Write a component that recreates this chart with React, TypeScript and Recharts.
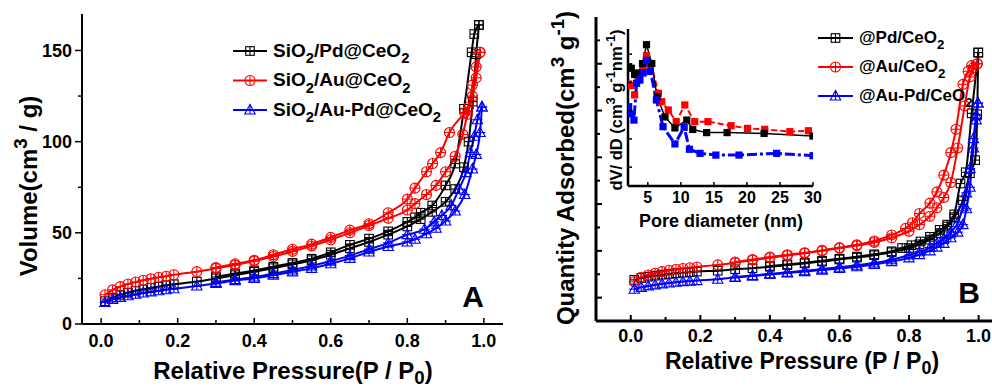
import React from 'react';
import { LineChart, Line, XAxis, YAxis, Label, Legend } from 'recharts';

type Pt = [number, number];

const FONT = "'Liberation Sans', Arial, Helvetica, sans-serif";

// ---- panel A: isotherms (P/P0, volume cm3/g) ----
const A_PD_ADS: Pt[] = [[0.01,12.5],[0.03,14.5],[0.05,16],[0.07,17.2],[0.09,18.2],[0.11,19],[0.13,19.8],[0.15,20.5],[0.17,21.2],[0.19,21.8],[0.25,23.3],[0.3,25],[0.35,26.8],[0.4,28.6],[0.45,30.6],[0.5,32.7],[0.55,35],[0.6,38],[0.65,41.5],[0.7,45],[0.75,49],[0.8,53.5],[0.835,57.5],[0.865,61.5],[0.9,67],[0.925,74],[0.948,86],[0.96,100],[0.971,122],[0.98,148],[0.987,164]];
const A_PD_DES: Pt[] = [[0.3,25.8],[0.35,27.7],[0.4,29.3],[0.45,31.4],[0.5,33.5],[0.55,35.8],[0.6,39.3],[0.65,43.4],[0.7,46.8],[0.75,50.8],[0.8,56],[0.82,58.5],[0.835,61],[0.865,65],[0.9,76],[0.925,88],[0.948,118],[0.968,149],[0.975,159],[0.987,164]];
const A_AU_ADS: Pt[] = [[0.01,16],[0.03,18.7],[0.05,20.5],[0.07,21.9],[0.09,23],[0.11,24],[0.13,24.8],[0.15,25.6],[0.17,26.2],[0.19,27],[0.25,28.7],[0.3,30.5],[0.35,32.3],[0.4,34.5],[0.45,37],[0.5,39.8],[0.55,42.8],[0.6,46.2],[0.65,50],[0.7,54],[0.75,58],[0.8,62.5],[0.82,66],[0.85,71],[0.875,76],[0.9,83.5],[0.925,92],[0.945,104],[0.957,115],[0.97,125],[0.98,135],[0.99,149]];
const A_AU_DES: Pt[] = [[0.3,31],[0.35,33],[0.4,35],[0.45,38],[0.5,41],[0.55,43.8],[0.6,47.5],[0.65,51.5],[0.7,55],[0.75,61],[0.8,68.5],[0.82,74.5],[0.85,83.5],[0.866,88],[0.887,94],[0.91,105],[0.95,116],[0.96,119],[0.97,131],[0.98,141],[0.99,149]];
const A_AUPD_ADS: Pt[] = [[0.01,11.8],[0.03,13.5],[0.05,14.6],[0.07,15.5],[0.09,16.3],[0.11,17],[0.13,17.6],[0.15,18.2],[0.17,18.8],[0.19,19.3],[0.25,20.8],[0.3,22.2],[0.35,23.8],[0.4,25],[0.45,26.8],[0.5,28.6],[0.55,30.5],[0.6,33],[0.65,36],[0.7,39.5],[0.75,42.5],[0.8,45],[0.82,46.5],[0.85,49.5],[0.875,52.5],[0.9,56.5],[0.925,62],[0.95,71],[0.97,85],[0.98,93],[0.99,105],[0.995,119]];
const A_AUPD_DES: Pt[] = [[0.3,22.8],[0.35,24.4],[0.4,25.8],[0.45,27.6],[0.5,29.6],[0.55,31.8],[0.6,34.5],[0.65,37.5],[0.7,41],[0.75,44.5],[0.8,49],[0.845,52],[0.87,56],[0.89,59.5],[0.915,65],[0.935,74],[0.953,83],[0.965,94],[0.975,103],[0.983,112],[0.995,119]];

// ---- panel B: isotherms (no y labels in the figure) ----
const B_PD_ADS: Pt[] = [[0.01,19],[0.03,21],[0.05,22.4],[0.07,23.5],[0.09,24.5],[0.11,25.3],[0.13,26],[0.15,26.7],[0.17,27.2],[0.19,27.8],[0.25,28.8],[0.3,30.3],[0.35,31.4],[0.4,33],[0.45,34.8],[0.5,36.6],[0.55,38.5],[0.6,40.8],[0.65,42.8],[0.7,45.3],[0.75,48.5],[0.8,53],[0.83,57],[0.86,62],[0.89,69],[0.91,76],[0.93,86],[0.955,104],[0.975,133],[0.99,147],[0.996,196],[0.999,262]];
const B_PD_DES: Pt[] = [[0.4,33.8],[0.45,35.5],[0.5,37.3],[0.55,39.3],[0.6,41.6],[0.65,43.8],[0.7,46.3],[0.75,49.5],[0.78,53],[0.807,56],[0.833,60],[0.86,65],[0.888,72.4],[0.91,78],[0.93,89],[0.948,122],[0.963,134],[0.98,197],[0.999,262]];
const B_AU_ADS: Pt[] = [[0.01,17],[0.03,21.8],[0.05,24.2],[0.07,26],[0.09,27.8],[0.11,29.2],[0.13,30.3],[0.15,31.2],[0.17,32],[0.19,32.8],[0.25,35],[0.3,37.4],[0.35,40],[0.4,42.6],[0.45,45],[0.5,47.4],[0.55,50],[0.6,52.8],[0.65,55.6],[0.7,59],[0.75,64],[0.8,71],[0.83,78],[0.86,87],[0.88,96],[0.9,107],[0.92,123],[0.94,160],[0.96,205],[0.975,236],[0.985,246],[0.996,250]];
const B_AU_DES: Pt[] = [[0.3,38],[0.35,40.8],[0.4,43.3],[0.45,45.8],[0.5,48],[0.55,50.5],[0.6,53.5],[0.65,56.5],[0.7,60.5],[0.75,67],[0.79,74],[0.81,80],[0.83,90],[0.86,101],[0.88,113],[0.9,131],[0.92,155],[0.935,180],[0.955,228],[0.97,242],[0.98,248],[0.996,250]];
const B_AUPD_ADS: Pt[] = [[0.01,9],[0.03,11],[0.05,12.5],[0.07,13.6],[0.09,14.7],[0.11,15.6],[0.13,16.4],[0.15,17.1],[0.17,17.6],[0.19,18.2],[0.25,19.6],[0.3,21.5],[0.35,23],[0.4,24.8],[0.45,26.3],[0.5,27.8],[0.55,29.4],[0.6,31.2],[0.65,33],[0.7,35.5],[0.75,38.5],[0.8,42.5],[0.83,46],[0.86,50],[0.88,54],[0.9,58],[0.92,64],[0.94,70],[0.955,78],[0.965,95],[0.975,118],[0.985,160],[0.993,190],[0.998,208]];
const B_AUPD_DES: Pt[] = [[0.3,22],[0.35,23.6],[0.4,25.5],[0.45,27],[0.5,28.6],[0.55,30.5],[0.6,32.5],[0.65,34.6],[0.7,37],[0.75,40.5],[0.8,45.5],[0.83,49],[0.86,53.5],[0.88,58],[0.9,63],[0.92,70],[0.94,80],[0.955,97],[0.965,112],[0.975,138],[0.985,170],[0.993,195],[0.998,208]];

// ---- inset: pore size distribution (nm, dV/dD arbitrary) ----
const IN_PD: Pt[] = [[2.1,0.76],[2.5,0.75],[3.0,0.71],[3.5,0.72],[4.2,0.78],[4.8,0.9],[5.6,0.78],[6.4,0.57],[7.6,0.44],[9.1,0.37],[10.9,0.42],[11.8,0.36],[13.9,0.34],[17.0,0.34],[22.6,0.335],[30,0.318]];
const IN_AU: Pt[] = [[2.1,0.65],[2.5,0.64],[3.0,0.58],[3.5,0.675],[4.3,0.74],[4.8,0.83],[5.5,0.78],[6.6,0.59],[7.1,0.537],[8.1,0.484],[9.3,0.41],[10.6,0.516],[12.1,0.41],[14.1,0.41],[17.6,0.384],[20.1,0.367],[22.7,0.361],[26.5,0.346],[29.3,0.352]];
const IN_AUPD: Pt[] = [[2.1,0.505],[2.5,0.46],[2.9,0.42],[3.3,0.654],[3.8,0.675],[4.3,0.72],[4.8,0.8],[5.4,0.73],[6.3,0.548],[7.3,0.378],[9.1,0.268],[10.5,0.374],[11.3,0.234],[12.9,0.208],[15.3,0.197],[18.8,0.197],[24.5,0.208],[30,0.193]];

const A_NAMES = ['SiO_{2}/Pd@CeO_{2}', 'SiO_{2}/Au@CeO_{2}', 'SiO_{2}/Au-Pd@CeO_{2}'];
const B_NAMES = ['@Pd/CeO_{2}', '@Au/CeO_{2}', '@Au-Pd/CeO_{2}'];
const COLORS = ['#000000', '#ff0000', '#0000ff'];
const KINDS = ['square', 'circle', 'triangle'];

const P_TICKS = [0, 0.1, 0.2, 0.3, 0.4, 0.5, 0.6, 0.7, 0.8, 0.9, 1.0];
const A_Y_TICKS = [0, 25, 50, 75, 100, 125, 150];
const B_Y_TICKS = [0, 25, 50, 75, 100, 125, 150, 175, 200, 225, 250, 275];
const IN_X_TICKS = [5, 10, 15, 20, 25, 30];
const IN_Y_TICKS = [0.12, 0.3, 0.48, 0.66, 0.84];

const rows = (pts: Pt[]) => pts.map(([p, v]) => ({ p, v }));

// text with _{sub} and ^{sup}
function rich(s: string, fs: number, subDrop = 0.3) {
  const parts = s.split(/([_^]\{[^}]*\})/).filter(Boolean);
  let shift = 0;
  return parts.map((t, i) => {
    if (t[0] === '_' || t[0] === '^') {
      const d = t[0] === '_' ? fs * subDrop : -fs * 0.4;
      const el = (
        <tspan key={i} dy={d - shift} fontSize={fs * 0.78}>
          {t.slice(2, -1)}
        </tspan>
      );
      shift = d;
      return el;
    }
    const el = (
      <tspan key={i} dy={-shift}>
        {t}
      </tspan>
    );
    shift = 0;
    return el;
  });
}

function Marker({ kind, cx, cy, color }: { kind: string; cx: number; cy: number; color: string }) {
  if (cx == null || cy == null) return null;
  const sw = 1.1;
  if (kind === 'square') {
    const h = 4.3;
    return (
      <g stroke={color} strokeWidth={sw} fill="none">
        <rect x={cx - h} y={cy - h} width={h * 2} height={h * 2} />
        <line x1={cx - h} x2={cx + h} y1={cy} y2={cy} />
        <line x1={cx} x2={cx} y1={cy - h} y2={cy + h} />
      </g>
    );
  }
  if (kind === 'circle') {
    const r = 5;
    return (
      <g stroke={color} strokeWidth={sw} fill="none">
        <circle cx={cx} cy={cy} r={r} />
        <line x1={cx - r} x2={cx + r} y1={cy} y2={cy} />
        <line x1={cx} x2={cx} y1={cy - r} y2={cy + r} />
      </g>
    );
  }
  const w = 5.2;
  return (
    <g stroke={color} strokeWidth={sw} fill="none">
      <polygon points={`${cx},${cy - 5.5} ${cx - w},${cy + 4} ${cx + w},${cy + 4}`} />
      <line x1={cx - w} x2={cx + w} y1={cy} y2={cy} />
      <line x1={cx} x2={cx} y1={cy - 5.5} y2={cy + 4} />
    </g>
  );
}

const dotOf = (kind: string, color: string) => (props: any) => (
  <Marker key={`${kind}-${props.index}`} kind={kind} cx={props.cx} cy={props.cy} color={color} />
);

const squareDot = (color: string) => (props: any) =>
  props.cx == null ? null : (
    <rect key={props.index} x={props.cx - 3.6} y={props.cy - 3.6} width={7.2} height={7.2} fill={color} />
  );

type Side = 'bottom' | 'left' | 'top' | 'right';
function tickOf(opt: {
  side: Side;
  margin: number;
  major: (v: number) => boolean;
  label?: (v: number) => string;
  fs?: number;
  inward: boolean;
  majorLen: number;
  minorLen: number;
  sw?: number;
}) {
  return (props: any) => {
    const { x, y, payload, index } = props;
    const v = payload.value;
    const maj = opt.major(v);
    const len = maj ? opt.majorLen : opt.minorLen;
    const lab = maj && opt.label ? opt.label(v) : null;
    const fs = opt.fs || 16;
    let ln: React.ReactNode = null;
    let tx: React.ReactNode = null;
    if (opt.side === 'bottom') {
      const ay = y - opt.margin;
      ln = <line x1={x} x2={x} y1={ay} y2={opt.inward ? ay - len : ay + len} />;
      if (lab) tx = <text x={x} y={y} dy="0.71em" textAnchor="middle">{lab}</text>;
    } else if (opt.side === 'top') {
      const ay = y + opt.margin;
      ln = <line x1={x} x2={x} y1={ay} y2={opt.inward ? ay + len : ay - len} />;
    } else if (opt.side === 'left') {
      const ax = x + opt.margin;
      ln = <line x1={ax} x2={opt.inward ? ax + len : ax - len} y1={y} y2={y} />;
      if (lab) tx = <text x={x} y={y} dy="0.35em" textAnchor="end">{lab}</text>;
    } else {
      const ax = x - opt.margin;
      ln = <line x1={ax} x2={opt.inward ? ax - len : ax + len} y1={y} y2={y} />;
    }
    return (
      <g key={index}>
        <g stroke="#000" strokeWidth={opt.sw || 1.5}>{ln}</g>
        {tx && (
          <g fill="#000" fontSize={fs} fontWeight={700} fontFamily={FONT}>
            {tx}
          </g>
        )}
      </g>
    );
  };
}

const isEvenTenth = (v: number) => Math.round(v * 10) % 2 === 0;
const isFifty = (v: number) => Math.round(v) % 50 === 0;

function LegendBox({ names, fs, gap, lineLen }: { names: string[]; fs: number; gap: number; lineLen: number }) {
  return (
    <svg width={250} height={gap * 3 + 12} style={{ overflow: 'visible', display: 'block' }}>
      {names.map((n, i) => {
        const cy = 12 + i * gap;
        return (
          <g key={n}>
            <line x1={0} x2={lineLen} y1={cy} y2={cy} stroke={COLORS[i]} strokeWidth={2} />
            <Marker kind={KINDS[i]} cx={lineLen / 2} cy={cy} color={COLORS[i]} />
            <text x={lineLen + 6} y={cy + fs * 0.3} fontSize={fs} fontWeight={700} fontFamily={FONT} fill="#000">
              {rich(n, fs, 0.34)}
            </text>
          </g>
        );
      })}
    </svg>
  );
}

const titleText = (s: string, x: number, y: number, fs: number, rotate = false) => () => (
  <text
    x={x}
    y={y}
    textAnchor="middle"
    fontSize={fs}
    fontWeight={700}
    fontFamily={FONT}
    fill="#000"
    transform={rotate ? `rotate(-90, ${x}, ${y})` : undefined}
  >
    {rich(s, fs, 0.2)}
  </text>
);

function isoLines(sets: Pt[][]) {
  // sets: [pdAds, pdDes, auAds, auDes, aupdAds, aupdDes]
  return sets.map((pts, i) => {
    const s = Math.floor(i / 2);
    return (
      <Line
        key={i}
        data={rows(pts)}
        dataKey="v"
        type="monotone"
        stroke={COLORS[s]}
        strokeWidth={2}
        dot={dotOf(KINDS[s], COLORS[s])}
        activeDot={false}
        isAnimationActive={false}
      />
    );
  });
}

function PanelA() {
  const dom: [number, number] = [-0.05, 1.05];
  return (
    <LineChart width={520} height={387} margin={{ top: 14, right: 17, left: 0, bottom: 0 }}>
      <XAxis
        dataKey="p"
        type="number"
        domain={dom}
        allowDataOverflow
        ticks={P_TICKS}
        interval={0}
        height={63}
        tickSize={0}
        tickMargin={10}
        axisLine={{ stroke: '#000', strokeWidth: 2 }}
        tick={tickOf({ side: 'bottom', margin: 10, major: isEvenTenth, label: (v) => v.toFixed(1), fs: 18, inward: true, majorLen: 6, minorLen: 4 })}
      >
        <Label content={titleText('Relative Pressure(P / P_{0})', 293, 379, 24)} />
        <Label content={titleText('A', 473, 307, 30)} />
      </XAxis>
      <XAxis
        xAxisId="top"
        orientation="top"
        dataKey="p"
        type="number"
        domain={dom}
        allowDataOverflow
        ticks={P_TICKS}
        interval={0}
        height={0}
        tickSize={0}
        tickMargin={0}
        axisLine={{ stroke: '#000', strokeWidth: 2 }}
        tick={tickOf({ side: 'top', margin: 0, major: isEvenTenth, inward: true, majorLen: 5, minorLen: 3 })}
      />
      <YAxis
        type="number"
        domain={[0, 170]}
        allowDataOverflow
        ticks={A_Y_TICKS}
        interval={0}
        width={82}
        tickSize={0}
        tickMargin={10}
        axisLine={{ stroke: '#000', strokeWidth: 2 }}
        tick={tickOf({ side: 'left', margin: 10, major: isFifty, label: (v) => String(v), fs: 18, inward: false, majorLen: 7, minorLen: 4 })}
      >
        <Label content={titleText('Volume(cm^{3} / g)', 37, 186, 24, true)} />
      </YAxis>
      <YAxis
        yAxisId="right"
        orientation="right"
        type="number"
        domain={[0, 170]}
        allowDataOverflow
        ticks={A_Y_TICKS}
        interval={0}
        width={0}
        tickSize={0}
        tickMargin={0}
        axisLine={{ stroke: '#000', strokeWidth: 2 }}
        tick={tickOf({ side: 'right', margin: 0, major: isFifty, inward: true, majorLen: 5, minorLen: 3 })}
      />
      <Legend
        layout="vertical"
        align="center"
        verticalAlign="middle"
        wrapperStyle={{ position: 'absolute', left: 233, top: 39, width: 250 }}
        content={() => <LegendBox names={A_NAMES} fs={19} gap={29.5} lineLen={34} />}
      />
      {isoLines([A_PD_ADS, A_PD_DES, A_AU_ADS, A_AU_DES, A_AUPD_ADS, A_AUPD_DES])}
    </LineChart>
  );
}

function PanelB() {
  const dom: [number, number] = [-0.1, 1.05];
  return (
    <LineChart width={480} height={387} margin={{ top: 17, right: 4, left: 0, bottom: 0 }}>
      <XAxis
        dataKey="p"
        type="number"
        domain={dom}
        allowDataOverflow
        ticks={P_TICKS}
        interval={0}
        height={66}
        tickSize={0}
        tickMargin={8}
        axisLine={{ stroke: '#000', strokeWidth: 3 }}
        tick={tickOf({ side: 'bottom', margin: 8, major: isEvenTenth, label: (v) => v.toFixed(1), fs: 18, inward: true, majorLen: 6, minorLen: 4, sw: 2 })}
      >
        <Label content={titleText('Relative Pressure (P / P_{0})', 282, 369, 23)} />
        <Label content={titleText('B', 449, 303, 30)} />
      </XAxis>
      <XAxis
        xAxisId="top"
        orientation="top"
        dataKey="p"
        type="number"
        domain={dom}
        allowDataOverflow
        ticks={P_TICKS}
        interval={0}
        height={0}
        tickSize={0}
        tickMargin={0}
        axisLine={{ stroke: '#000', strokeWidth: 3 }}
        tick={tickOf({ side: 'top', margin: 0, major: isEvenTenth, inward: true, majorLen: 5, minorLen: 3, sw: 2 })}
      />
      <YAxis
        type="number"
        domain={[-25, 300]}
        allowDataOverflow
        ticks={B_Y_TICKS}
        interval={0}
        width={76}
        tickSize={0}
        tickMargin={0}
        axisLine={{ stroke: '#000', strokeWidth: 3 }}
        tick={tickOf({ side: 'left', margin: 0, major: isFifty, inward: true, majorLen: 6, minorLen: 4, sw: 2 })}
      >
        <Label content={titleText('Quantity Adsorbed(cm^{3} g^{-1})', 54, 168, 24, true)} />
      </YAxis>
      <Legend
        layout="vertical"
        align="center"
        verticalAlign="middle"
        wrapperStyle={{ position: 'absolute', left: 298, top: 26, width: 180 }}
        content={() => <LegendBox names={B_NAMES} fs={17} gap={29} lineLen={35} />}
      />
      {isoLines([B_PD_ADS, B_PD_DES, B_AU_ADS, B_AU_DES, B_AUPD_ADS, B_AUPD_DES])}
    </LineChart>
  );
}

function Inset() {
  const dom: [number, number] = [2, 30];
  return (
    <LineChart width={250} height={240} margin={{ top: 29, right: 17, left: 0, bottom: 0 }}>
      <XAxis
        dataKey="d"
        type="number"
        domain={dom}
        allowDataOverflow
        ticks={IN_X_TICKS}
        interval={0}
        height={54}
        tickSize={0}
        tickMargin={6}
        axisLine={{ stroke: '#000', strokeWidth: 2.5 }}
        tick={tickOf({ side: 'bottom', margin: 6, major: () => true, label: (v) => String(v), fs: 16, inward: true, majorLen: 4, minorLen: 3 })}
      >
        <Label content={titleText('Pore diameter (nm)', 141, 227, 18)} />
      </XAxis>
      <XAxis
        xAxisId="top"
        orientation="top"
        dataKey="d"
        type="number"
        domain={dom}
        allowDataOverflow
        ticks={IN_X_TICKS}
        interval={0}
        height={0}
        tickSize={0}
        tickMargin={0}
        axisLine={{ stroke: '#000', strokeWidth: 2.5 }}
        tick={false}
      />
      <YAxis
        type="number"
        domain={[0, 1]}
        allowDataOverflow
        ticks={IN_Y_TICKS}
        interval={0}
        width={48}
        tickSize={0}
        tickMargin={0}
        axisLine={{ stroke: '#000', strokeWidth: 2.5 }}
        tick={tickOf({ side: 'left', margin: 0, major: () => true, inward: true, majorLen: 4, minorLen: 3 })}
      >
        <Label content={titleText('dV/ dD (cm^{3} g^{-1}nm^{-1})', 42, 110, 16.5, true)} />
      </YAxis>
      <YAxis
        yAxisId="right"
        orientation="right"
        type="number"
        domain={[0, 1]}
        allowDataOverflow
        width={0}
        tickSize={0}
        axisLine={{ stroke: '#000', strokeWidth: 2.5 }}
        tick={false}
      />
      <Line data={IN_AU.map(([d, v]) => ({ d, v }))} dataKey="v" type="linear" stroke={COLORS[1]} strokeWidth={2} strokeDasharray="6 3" dot={squareDot(COLORS[1])} activeDot={false} isAnimationActive={false} />
      <Line data={IN_PD.map(([d, v]) => ({ d, v }))} dataKey="v" type="linear" stroke={COLORS[0]} strokeWidth={1.5} dot={squareDot(COLORS[0])} activeDot={false} isAnimationActive={false} />
      <Line data={IN_AUPD.map(([d, v]) => ({ d, v }))} dataKey="v" type="linear" stroke={COLORS[2]} strokeWidth={3} strokeDasharray="10 3 3 3" dot={squareDot(COLORS[2])} activeDot={false} isAnimationActive={false} />
    </LineChart>
  );
}

export default function App() {
  return (
    <div
      style={{
        position: 'absolute',
        left: 0,
        top: 0,
        width: 992,
        height: 387,
        overflow: 'hidden',
        background: '#fff',
        fontFamily: FONT,
      }}
    >
      <div style={{ position: 'absolute', left: 0, top: 0 }}>
        <PanelA />
      </div>
      <div style={{ position: 'absolute', left: 520, top: 0 }}>
        <PanelB />
      </div>
      <div style={{ position: 'absolute', left: 580, top: 0 }}>
        <Inset />
      </div>
    </div>
  );
}
